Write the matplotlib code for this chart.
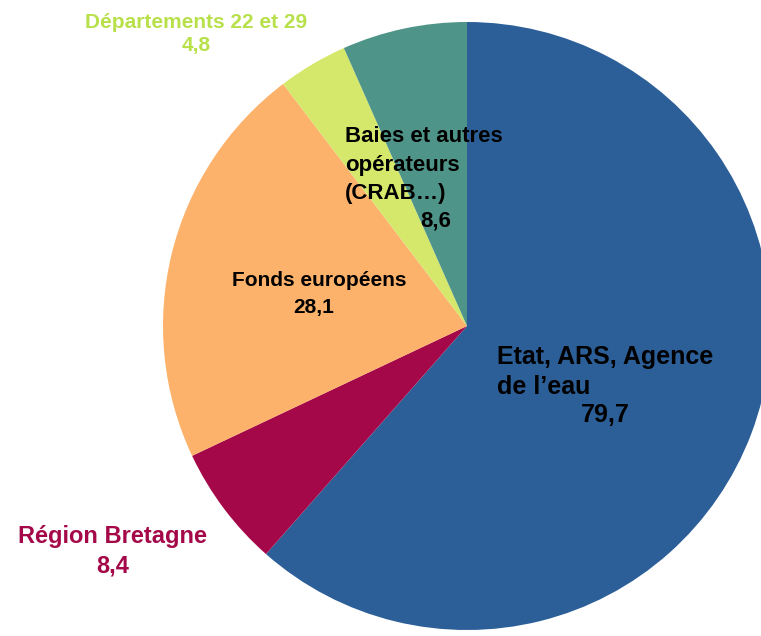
import matplotlib
matplotlib.use("Agg")
import matplotlib.pyplot as plt

labels = ["Etat, ARS, Agence de l\u2019eau", "Région Bretagne", "Fonds européens",
          "Départements 22 et 29", "Baies et autres opérateurs (CRAB…)"]
values = [79.7, 8.4, 28.1, 4.8, 8.6]
value_labels = ["79,7", "8,4", "28,1", "4,8", "8,6"]
colors = ["#2C5F98", "#A50848", "#FDB26B", "#D5E86C", "#4F9488"]

W, H = 761, 636
fig = plt.figure(figsize=(W / 100, H / 100), dpi=100)
ax = fig.add_axes([0, 0, 1, 1])

cx, cy, r = 467, H - 326, 304
ax.pie(values, colors=colors, startangle=90, counterclock=False,
       center=(cx, cy), radius=r, frame=True,
       wedgeprops=dict(linewidth=0))
ax.set_xlim(0, W)
ax.set_ylim(0, H)
ax.set_aspect("auto")
ax.axis("off")

def font(size):
    return dict(family="Liberation Sans", fontweight="bold", fontsize=size)

def y(py):
    return H - py

# Départements
ax.text(196, y(22), labels[3], color="#B8E04A", ha="center", va="center", **font(15))
ax.text(196, y(46), value_labels[3], color="#B8E04A", ha="center", va="center", **font(15))
# Région Bretagne
ax.text(113, y(536), labels[1], color="#A50848", ha="center", va="center", **font(17))
ax.text(113, y(566), value_labels[1], color="#A50848", ha="center", va="center", **font(17))
# Baies
for i, line in enumerate(["Baies et autres", "opérateurs", "(CRAB…)"]):
    ax.text(345, y(137 + 28 * i), line, color="black", ha="left", va="center", **font(16))
ax.text(451, y(221), value_labels[4], color="black", ha="right", va="center", **font(16))
# Fonds européens
ax.text(319, y(281), "Fonds européens", color="black", ha="center", va="center", **font(15))
ax.text(314, y(308), value_labels[2], color="black", ha="center", va="center", **font(15))
# Etat
ax.text(497, y(357), "Etat, ARS, Agence", color="black", ha="left", va="center", **font(18))
ax.text(497, y(387), "de l\u2019eau", color="black", ha="left", va="center", **font(18))
ax.text(630, y(415), value_labels[0], color="black", ha="right", va="center", **font(18))

fig.savefig("out.png", dpi=100)
